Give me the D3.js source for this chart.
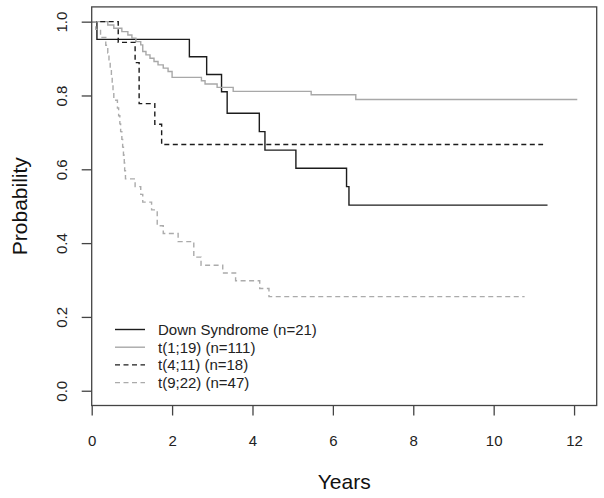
<!DOCTYPE html>
<html>
<head>
<meta charset="utf-8">
<script src="https://cdn.jsdelivr.net/npm/d3@7"></script>
<style>
  html, body { margin: 0; padding: 0; background: #fff; }
  svg { display: block; font-family: "Liberation Sans", Arial, sans-serif; }
</style>
</head>
<body>
<svg id="chart" width="604" height="498"></svg>
<script>
// ---- Data ----
const seriesNames = ["Down Syndrome (n=21)", "t(1;19) (n=111)", "t(4;11) (n=18)", "t(9;22) (n=47)"];

const dsTimes = [0, 0.13, 2.43, 2.86, 3.23, 3.37, 4.17, 4.31, 5.08, 6.34, 6.40];
const dsSurv  = [1, 0.952, 0.905, 0.857, 0.810, 0.752, 0.702, 0.652, 0.603, 0.553, 0.503];
const dsEnd = 11.34;

const t119Times = [0, 0.40, 0.55, 0.75, 0.90, 1.00, 1.10, 1.22, 1.27, 1.35, 1.45, 1.55, 1.65, 1.78, 1.90, 2.00, 2.73, 2.82, 3.12, 3.52, 5.46, 6.57];
const t119Surv  = [1, 0.991, 0.982, 0.973, 0.964, 0.955, 0.946, 0.937, 0.919, 0.910, 0.901, 0.892, 0.883, 0.874, 0.865, 0.849, 0.840, 0.831, 0.822, 0.811, 0.802, 0.789];
const t119End = 12.08;

const t411Times = [0, 0.66, 1.08, 1.18, 1.57, 1.74];
const t411Surv  = [1, 0.944, 0.889, 0.778, 0.722, 0.667];
const t411End = 11.23;

const t922Times = [0, 0.10, 0.22, 0.35, 0.40, 0.43, 0.46, 0.49, 0.51, 0.53, 0.55, 0.64, 0.67, 0.70, 0.72, 0.75, 0.77, 0.79, 0.81, 0.82, 0.84, 1.08, 1.22, 1.27, 1.49, 1.63, 1.78, 2.15, 2.54, 2.72, 3.26, 3.58, 4.18, 4.41];
const t922Surv  = [1, 0.979, 0.957, 0.936, 0.915, 0.894, 0.872, 0.851, 0.830, 0.809, 0.787, 0.766, 0.745, 0.723, 0.702, 0.681, 0.660, 0.638, 0.617, 0.596, 0.574, 0.553, 0.532, 0.511, 0.490, 0.447, 0.426, 0.404, 0.362, 0.340, 0.319, 0.298, 0.277, 0.255];
const t922End = 10.77;

const xTicks = [0, 2, 4, 6, 8, 10, 12];
const yTicks = [0.0, 0.2, 0.4, 0.6, 0.8, 1.0];

// ---- Layout ----
const svg = d3.select("#chart");
const mLeft = 91.7, mRight = 596.7, mTop = 6.9, mBottom = 405.5;
const xMax = 12.08 * 1.04;

const x = d3.scaleLinear().domain([0, xMax]).range([mLeft, mRight]);
const y = d3.scaleLinear().domain([-0.04, 1.04]).range([mBottom, mTop]);

const series = [
  { name: seriesNames[0], times: dsTimes, surv: dsSurv, end: dsEnd, color: "#1c1c1c", dash: null },
  { name: seriesNames[1], times: t119Times, surv: t119Surv, end: t119End, color: "#a8a8a8", dash: null },
  { name: seriesNames[2], times: t411Times, surv: t411Surv, end: t411End, color: "#1c1c1c", dash: "5,3.5" },
  { name: seriesNames[3], times: t922Times, surv: t922Surv, end: t922End, color: "#ababab", dash: "5,3.5" }
];

const line = d3.line().x(d => x(d[0])).y(d => y(d[1])).curve(d3.curveStepAfter);

// draw curves
series.forEach(s => {
  const pts = s.times.map((t, i) => [t, s.surv[i]]);
  pts.push([s.end, s.surv[s.surv.length - 1]]);
  svg.append("path")
    .datum(pts)
    .attr("d", line)
    .attr("fill", "none")
    .attr("stroke", s.color)
    .attr("stroke-width", 1.4)
    .attr("stroke-dasharray", s.dash);
});

// box
svg.append("rect")
  .attr("x", mLeft).attr("y", mTop)
  .attr("width", mRight - mLeft).attr("height", mBottom - mTop)
  .attr("fill", "none").attr("stroke", "#444").attr("stroke-width", 1.3);

// x axis
const xAxis = svg.append("g")
  .attr("transform", `translate(0,${mBottom})`)
  .call(d3.axisBottom(x).tickValues(xTicks).tickFormat(d3.format("d")).tickSize(10).tickPadding(20));
xAxis.select(".domain").remove();
xAxis.selectAll(".tick line").attr("stroke", "#444").attr("stroke-width", 1.3);
xAxis.selectAll(".tick text").attr("font-size", 15).attr("fill", "#222")
  .attr("font-family", "Liberation Sans, Arial, sans-serif");

// y axis
const yAxis = svg.append("g")
  .attr("transform", `translate(${mLeft},0)`)
  .call(d3.axisLeft(y).tickValues(yTicks).tickFormat(d3.format(".1f")).tickSize(10));
yAxis.select(".domain").remove();
yAxis.selectAll(".tick line").attr("stroke", "#444").attr("stroke-width", 1.3);
yAxis.selectAll(".tick text")
  .attr("font-size", 15).attr("fill", "#222")
  .attr("font-family", "Liberation Sans, Arial, sans-serif")
  .attr("text-anchor", "middle")
  .attr("x", 0).attr("dy", null).attr("y", 0)
  .attr("transform", "translate(-24.7,0) rotate(-90)");

// axis titles
svg.append("text")
  .attr("x", (mLeft + mRight) / 2).attr("y", 489)
  .attr("text-anchor", "middle").attr("font-size", 21).attr("fill", "#111")
  .text("Years");
svg.append("text")
  .attr("transform", `translate(26.5,${(mTop + mBottom) / 2}) rotate(-90)`)
  .attr("text-anchor", "middle").attr("font-size", 21).attr("fill", "#111")
  .text("Probability");

// legend
const legY0 = 329.5, legStep = 17.7;
series.forEach((s, i) => {
  const yy = legY0 + i * legStep;
  svg.append("line")
    .attr("x1", 115).attr("x2", 145).attr("y1", yy).attr("y2", yy)
    .attr("stroke", s.color).attr("stroke-width", 1.4)
    .attr("stroke-dasharray", s.dash);
  svg.append("text")
    .attr("x", 158).attr("y", yy + 5.3)
    .attr("font-size", 15).attr("fill", "#222")
    .text(s.name);
});
</script>
</body>
</html>
